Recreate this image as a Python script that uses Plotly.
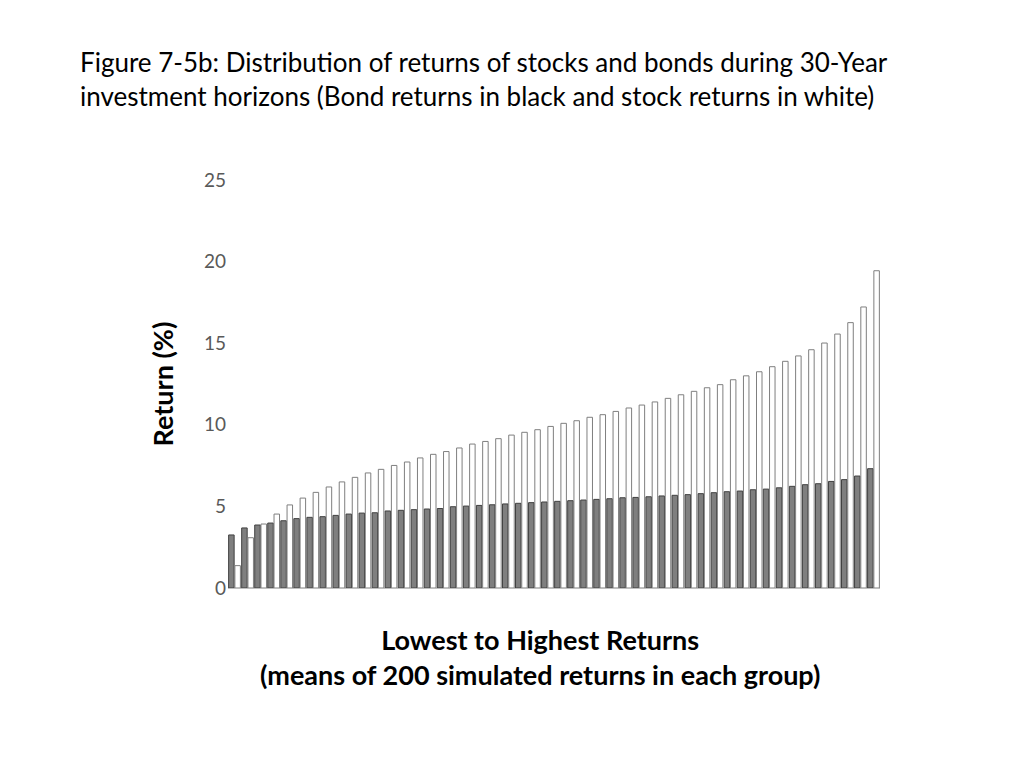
import plotly.graph_objects as go

groups = list(range(1, 51))

bond_returns = [3.25, 3.68, 3.86, 3.98, 4.12, 4.25, 4.33, 4.37, 4.45, 4.53,
                4.59, 4.61, 4.72, 4.76, 4.80, 4.84, 4.87, 4.98, 5.02, 5.06,
                5.10, 5.15, 5.19, 5.23, 5.27, 5.31, 5.35, 5.39, 5.43, 5.47,
                5.53, 5.55, 5.59, 5.64, 5.68, 5.72, 5.78, 5.84, 5.90, 5.94,
                6.02, 6.06, 6.14, 6.23, 6.33, 6.39, 6.53, 6.64, 6.86, 7.31]

stock_returns = [1.37, 3.08, 3.92, 4.53, 5.09, 5.51, 5.86, 6.19, 6.50, 6.78,
                 7.05, 7.27, 7.51, 7.72, 7.97, 8.19, 8.36, 8.58, 8.82, 8.98,
                 9.15, 9.37, 9.54, 9.70, 9.90, 10.09, 10.25, 10.46, 10.62, 10.82,
                 11.03, 11.21, 11.40, 11.62, 11.84, 12.05, 12.27, 12.46, 12.76, 13.00,
                 13.25, 13.56, 13.89, 14.22, 14.60, 15.01, 15.56, 16.26, 17.22, 19.44]

y_ticks = [0, 5, 10, 15, 20, 25]

fig = go.Figure()

fig.add_trace(go.Bar(x=groups, y=bond_returns, name='Bonds',
                     marker=dict(color='#7f7f7f', line=dict(color='#404040', width=1))))
fig.add_trace(go.Bar(x=groups, y=stock_returns, name='Stocks',
                     marker=dict(color='white', line=dict(color='#7f7f7f', width=1))))

# page has an 8px body margin, so everything is nudged up/left by 8
fig.update_layout(
    width=1024, height=768,
    paper_bgcolor='white', plot_bgcolor='white',
    font=dict(family='Lato, Carlito, sans-serif', color='black'),
    showlegend=False,
    barmode='group', bargap=0.04, bargroupgap=0.12,
    margin=dict(l=220, r=152, t=172, b=188),
    title=dict(text='Figure 7-5b: Distribution of returns of stocks and bonds during 30-Year<br>'
                    'investment horizons (Bond returns in black and stock returns in white)',
               x=72/1024, xanchor='left', y=1 - 64/768, yanchor='top',
               font=dict(size=26, color='black')),
    xaxis=dict(type='category', showticklabels=False, ticks='', showgrid=False,
               showline=True, linecolor='#bfbfbf', linewidth=1, zeroline=False),
    yaxis=dict(range=[0, 25], tickvals=y_ticks, showgrid=False, zeroline=False,
               showline=False, ticks='', tickfont=dict(size=19, color='#595959'),
               ticklabelstandoff=1,
               title=dict(text='<b>Return (%)</b>', font=dict(size=27, color='black'), standoff=22)),
    annotations=[dict(text='<b>Lowest to Highest Returns<br>(means of 200 simulated returns in each group)</b>',
                      x=0.4785, xref='paper', xanchor='center',
                      y=-0.081, yref='paper', yanchor='top', showarrow=False,
                      font=dict(size=27, color='black'), align='center')],
)

fig.write_html("out.html")
